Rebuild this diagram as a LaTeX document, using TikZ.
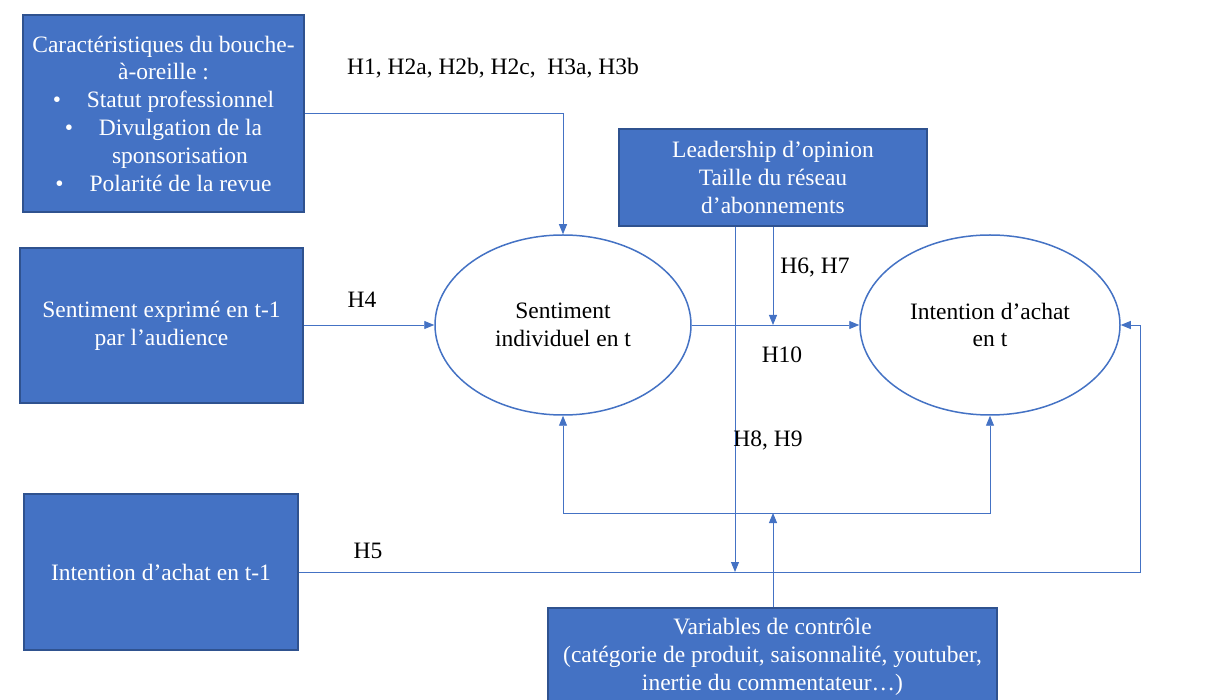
\documentclass[tikz,border=0pt]{standalone}
\usepackage{fontspec}
\setmainfont{Liberation Serif}
\usetikzlibrary{shapes.geometric,arrows.meta}
\definecolor{boxblue}{HTML}{4472C4}
\definecolor{boxedge}{HTML}{2F528F}
\tikzset{
  bluebox/.style={draw=boxedge, line width=1.2pt, fill=boxblue, text=white, align=center, inner sep=0pt, font=\fontsize{23.5}{27.8}\selectfont},
  oval/.style={ellipse, draw=boxblue, line width=1.5pt, fill=white, align=center, inner sep=0pt, minimum width=256pt, minimum height=180pt, font=\fontsize{23.5}{27.8}\selectfont},
  conn/.style={draw=boxblue, line width=0.9pt},
  arr/.style={conn, -{Triangle[length=10pt,width=8pt]}},
  hlab/.style={font=\fontsize{23.5}{27}\selectfont, inner sep=0pt}
}
\begin{document}
\begin{tikzpicture}[x=1pt,y=-1pt]
\useasboundingbox (0,0) rectangle (1208,700);
\clip (0,0) rectangle (1208,700);
% boxes
\node[bluebox, minimum width=281pt, minimum height=197pt] (b1) at (163.5,113.5)
  {Caractéristiques du bouche-\\à-oreille :\\\textbullet\hspace{1.1em}Statut professionnel\\\textbullet\hspace{1.1em}Divulgation de la\\\hspace{1.4em}sponsorisation\\\textbullet\hspace{1.1em}Polarité de la revue};
\node[bluebox, minimum width=283pt, minimum height=155pt] (b2) at (161.5,325.5)
  {Sentiment exprimé en t-1\\par l’audience};
\node[bluebox, minimum width=274pt, minimum height=156pt] (b3) at (161,572)
  {Intention d’achat en t-1};
\node[bluebox, minimum width=308pt, minimum height=97pt] (lead) at (773,177.5)
  {Leadership d’opinion\\Taille du réseau\\d’abonnements};
\node[bluebox, minimum width=449pt, minimum height=98pt] (var) at (772.5,657)
  {Variables de contrôle\\(catégorie de produit, saisonnalité, youtuber,\\inertie du commentateur…)};
% ellipses
\node[oval] (e1) at (563,325) {Sentiment\\individuel en t};
\node[oval, minimum width=260pt] (e2) at (990,325) {Intention d’achat\\en t};
% coordinates
\coordinate (m1) at (773,325);
\coordinate (m2) at (735,572);
\coordinate (m3) at (773,513);
\coordinate (cR) at (1140,572);
% connectors
\draw[arr] (b1.east) -| (e1.north);
\draw[arr] (b2.east |- e1.west) -- (e1.west);
\draw[arr] (e1.east) -- (e2.west);
\draw[arr] (lead.south -| m1) -- (m1);
\draw[arr] (lead.south -| m2) -- (m2);
\draw[arr] (b3.east) -- (cR) |- (e2.east);
\draw[arr] (var.north -| m3) -- (m3);
\draw[arr] (m3) -| (e1.south);
\draw[arr] (m3) -| (e2.south);
% labels
\node[hlab] (l1) at (493,68) {H1, H2a, H2b, H2c,\ \ H3a, H3b};
\node[hlab] (l4) at (362,300) {H4};
\node[hlab] (l67) at (815,268) {H6, H7};
\node[hlab] (l10) at (782,355) {H10};
\node[hlab] (l89) at (768,440) {H8, H9};
\node[hlab] (l5) at (368,551) {H5};
\end{tikzpicture}
\end{document}
